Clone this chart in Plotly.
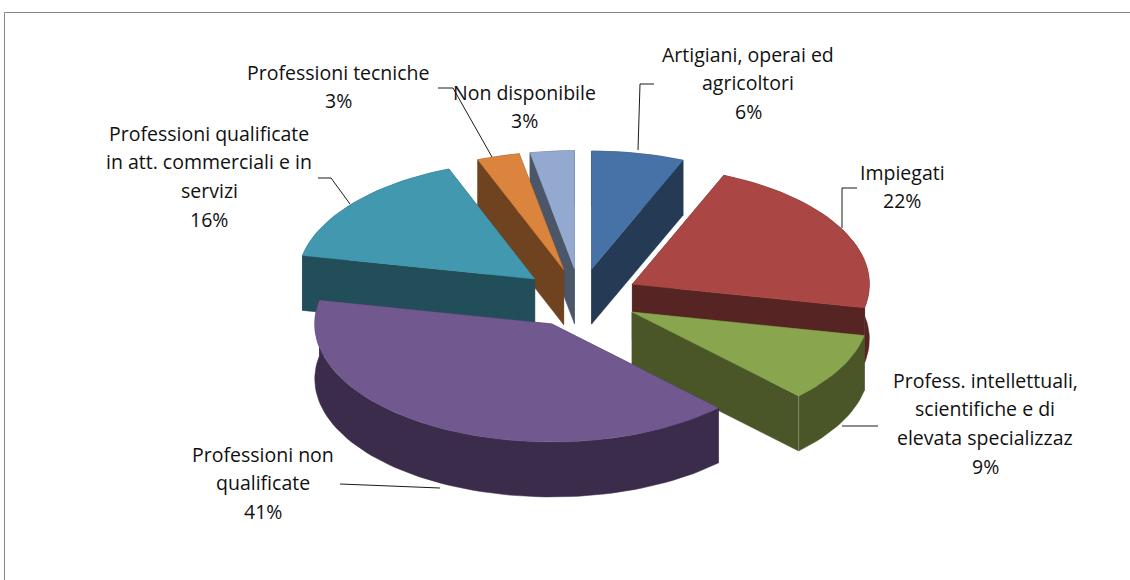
import math
import plotly.graph_objects as go

categories = ["Artigiani, operai ed agricoltori", "Impiegati",
              "Profess. intellettuali, scientifiche e di elevata specializzaz",
              "Professioni non qualificate",
              "Professioni qualificate in att. commerciali e in servizi",
              "Professioni tecniche", "Non disponibile"]
values = [6.3, 21.9, 9.4, 40.6, 15.9, 2.9, 3.0]
top_colors = ["#4672A8", "#AA4643", "#89A54E", "#71588F", "#4198AF", "#DB843D", "#93A9CF"]
wall_colors = ["#243A55", "#562423", "#4A5628", "#3A2C4A", "#224E5A", "#6F4220", "#4B5769"]
label_lines = [["Artigiani, operai ed", "agricoltori"], ["Impiegati"],
               ["Profess. intellettuali,", "scientifiche e di", "elevata specializzaz"],
               ["Professioni non", "qualificate"],
               ["Professioni qualificate", "in att. commerciali e in", "servizi"],
               ["Professioni tecniche"], ["Non disponibile"]]

# drawing geometry (pixels on a page-sized axis)
CX, CY, RX, RY, PULL, DEPTH = 580, 298, 237, 118, 0.25, 55
paint_order = [0, 6, 5, 4, 1, 2, 3]
seam_slice = 2
label_pos = [(748, 54), (902, 172), (985, 380), (263, 454), (209, 133), (338, 72), (524, 92)]
PITCH = 28.7
leaders = [[(654, 84), (640, 84), (638, 150)], [(857, 188), (842, 188), (842, 228)],
           [(842, 426), (878, 426)], [(340, 484), (440, 488)],
           [(318, 178), (331, 178), (350, 204)], [(438, 88), (453, 88), (492, 157)]]

total = sum(values)
angles = [0]
for v in values:
    angles.append(angles[-1] + 360 * v / total)


def pt(a, r=1.0, ox=0.0, oy=0.0):
    t = math.radians(a)
    return ox + RX * r * math.sin(t), oy - RY * r * math.cos(t)


fig = go.Figure()
for i in paint_order:
    a0, a1 = angles[i], angles[i + 1]
    mid = (a0 + a1) / 2
    ox, oy = pt(mid, PULL, CX, CY)
    n = max(3, int((a1 - a0) / 2))
    arc = [pt(a0 + (a1 - a0) * k / n, 1.0, ox, oy) for k in range(n + 1)]
    polys = [
        [(ox, oy), arc[0], (arc[0][0], arc[0][1] + DEPTH), (ox, oy + DEPTH)],
        [(ox, oy), arc[-1], (arc[-1][0], arc[-1][1] + DEPTH), (ox, oy + DEPTH)],
        arc + [(x, y + DEPTH) for x, y in reversed(arc)],
    ]
    for poly in polys:
        fig.add_trace(go.Scatter(x=[p[0] for p in poly] + [poly[0][0]],
                                 y=[p[1] for p in poly] + [poly[0][1]],
                                 mode="lines", fill="toself", fillcolor=wall_colors[i],
                                 line=dict(color=wall_colors[i], width=0.5),
                                 hoverinfo="skip", showlegend=False))
    if i == seam_slice:
        fig.add_trace(go.Scatter(x=[arc[-1][0], arc[-1][0]],
                                 y=[arc[-1][1], arc[-1][1] + DEPTH], mode="lines",
                                 line=dict(color="#8F9A78", width=0.75),
                                 hoverinfo="skip", showlegend=False))
    top = [(ox, oy)] + arc + [(ox, oy)]
    fig.add_trace(go.Scatter(x=[p[0] for p in top], y=[p[1] for p in top],
                             mode="lines", fill="toself", fillcolor=top_colors[i],
                             line=dict(color=top_colors[i], width=0.5),
                             name=categories[i], hoverinfo="skip", showlegend=False))

for seg in leaders:
    fig.add_trace(go.Scatter(x=[p[0] for p in seg], y=[p[1] for p in seg], mode="lines",
                             line=dict(color="#1a1a1a", width=1),
                             hoverinfo="skip", showlegend=False))

# chart frame: only top and left edges fall inside the picture
fig.add_trace(go.Scatter(x=[4.5, 4.5, 1130], y=[580, 12.5, 12.5], mode="lines",
                         line=dict(color="#868686", width=1),
                         hoverinfo="skip", showlegend=False))

annotations = []
for lines, (x, y), v in zip(label_lines, label_pos, values):
    for k, text in enumerate(lines + [f"{round(100 * v / total)}%"]):
        annotations.append(dict(x=x, y=y + k * PITCH, text=text, showarrow=False,
                                xanchor="center", yanchor="middle",
                                font=dict(family="Open Sans", size=19.5, color="#111111")))

fig.update_layout(width=1130, height=580, margin=dict(l=0, r=0, t=0, b=0),
                  paper_bgcolor="white", plot_bgcolor="white", annotations=annotations,
                  xaxis=dict(range=[0, 1130], visible=False, fixedrange=True),
                  yaxis=dict(range=[580, 0], visible=False, fixedrange=True),
                  showlegend=False)
fig.write_html("out.html", post_script="document.body.style.margin='0';",
               config=dict(displayModeBar=False))
